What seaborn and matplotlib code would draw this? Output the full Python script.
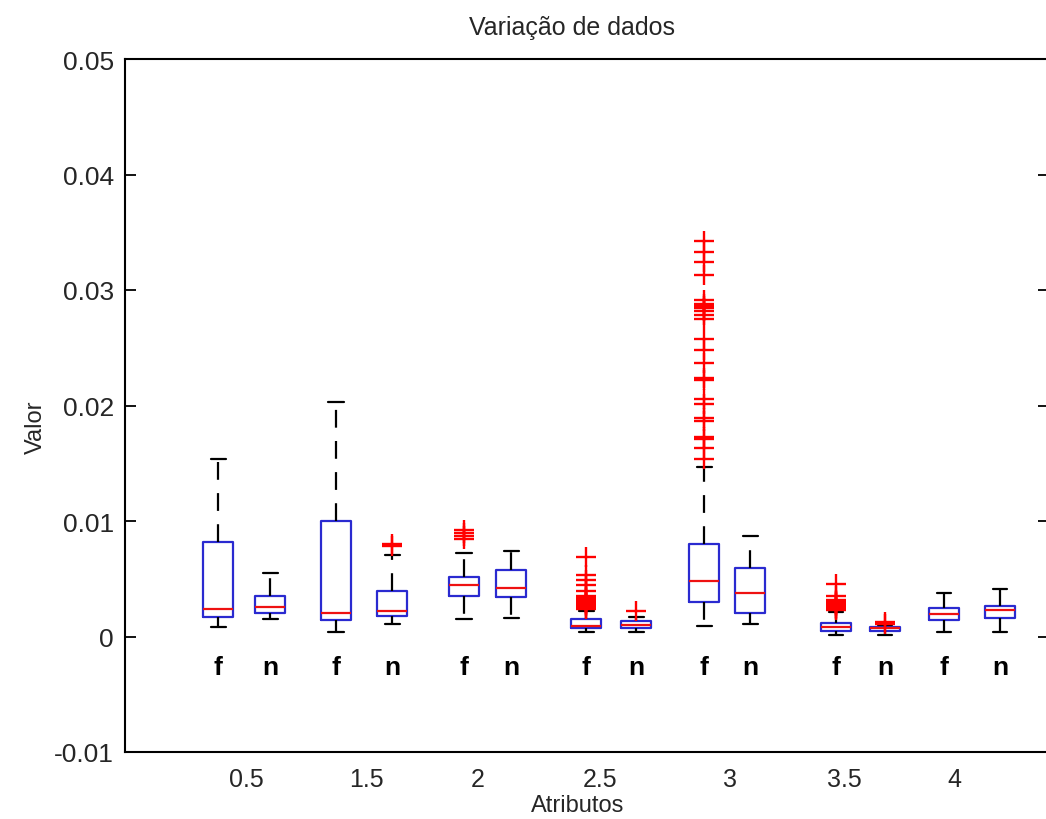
import numpy as np
import pandas as pd
import matplotlib
matplotlib.use("Agg")
import matplotlib.pyplot as plt
import seaborn as sns

# Attribute groups and the two classes shown under each box
atributos = ["0.5", "1.5", "2", "2.5", "3", "3.5", "4"]
classes = ["f", "n"]

# Box summaries per attribute: lower whisker, Q1, median, Q3, upper whisker
resumo_f = [
    [0.00080, 0.00166, 0.00238, 0.00816, 0.01537],
    [0.00036, 0.00146, 0.00201, 0.00997, 0.02033],
    [0.00152, 0.00348, 0.00449, 0.00518, 0.00723],
    [0.00036, 0.00071, 0.00094, 0.00152, 0.00225],
    [0.00088, 0.00296, 0.00483, 0.00798, 0.01470],
    [0.00016, 0.00050, 0.00080, 0.00114, 0.00210],
    [0.00036, 0.00143, 0.00195, 0.00244, 0.00377],
]
resumo_n = [
    [0.00152, 0.00201, 0.00258, 0.00353, 0.00547],
    [0.00108, 0.00180, 0.00224, 0.00391, 0.00706],
    [0.00163, 0.00345, 0.00423, 0.00576, 0.00740],
    [0.00036, 0.00071, 0.00100, 0.00131, 0.00170],
    [0.00108, 0.00201, 0.00374, 0.00593, 0.00873],
    [0.00016, 0.00050, 0.00071, 0.00085, 0.00100],
    [0.00036, 0.00160, 0.00227, 0.00261, 0.00409],
]

# Outlying observations per attribute
outliers_f = [
    [],
    [],
    [0.0084, 0.0087, 0.0090, 0.0092],
    [0.0024, 0.0025, 0.0026, 0.0027, 0.0028, 0.0029, 0.0030, 0.0031,
     0.0032, 0.0033, 0.0034, 0.0035, 0.0039, 0.00446, 0.00489,
     0.00532, 0.00686],
    [0.0154, 0.0163, 0.0171, 0.0173, 0.0187, 0.0189, 0.0201, 0.0206,
     0.0222, 0.0224, 0.0237, 0.0248, 0.0258, 0.0275, 0.0278, 0.0282,
     0.0284, 0.0286, 0.0288, 0.0291, 0.0313, 0.0324, 0.0333, 0.0342],
    [0.0023, 0.0024, 0.0025, 0.0026, 0.0027, 0.0028, 0.0029, 0.0030,
     0.0031, 0.0032, 0.0035, 0.00455],
    [],
]
outliers_n = [
    [],
    [0.0078, 0.0080],
    [],
    [0.0022],
    [],
    [0.00110, 0.00128],
    [],
]

# Horizontal layout of the boxes and of the attribute labels
pos_f = [2.18, 3.36, 4.64, 5.86, 7.04, 8.36, 9.44]
pos_n = [2.70, 3.92, 5.11, 6.36, 7.50, 8.85, 10.00]
pos_ticks = [2.46, 3.66, 4.78, 6.00, 7.30, 8.44, 9.54]

y_ticks = [-0.01, 0.0, 0.01, 0.02, 0.03, 0.04, 0.05]
y_ticklabels = ["-0.01", "0", "0.01", "0.02", "0.03", "0.04", "0.05"]

# Long tables for seaborn
rows, out_rows, lab_rows = [], [], []
for i in range(len(atributos)):
    for cls, pos, resumo, outs in (("f", pos_f[i], resumo_f[i], outliers_f[i]),
                                   ("n", pos_n[i], resumo_n[i], outliers_n[i])):
        for v in resumo:
            rows.append({"pos": pos, "valor": v})
        for v in outs:
            out_rows.append({"pos": pos, "valor": v})
        lab_rows.append((pos, cls))
df = pd.DataFrame(rows)
df_out = pd.DataFrame(out_rows)

sns.set_theme(style="white")
plt.rcParams["font.family"] = ["Liberation Sans", "DejaVu Sans"]

fig = plt.figure(figsize=(10.46, 8.20), dpi=100)
ax = fig.add_axes([125 / 1046, 67 / 820, 924 / 1046, 693 / 820])

all_pos = sorted(pos_f + pos_n)
box_w = 0.30 / np.min(np.diff(all_pos))

blue = "#2a2ad0"
red = "#ee1111"

sns.boxplot(
    data=df, x="pos", y="valor", orient="x", native_scale=True,
    whis=(0, 100), fill=False, width=box_w, showfliers=False,
    linewidth=1.6, ax=ax,
    boxprops=dict(color=blue, linewidth=1.6),
    medianprops=dict(color=red, linewidth=1.6),
    whiskerprops=dict(color="black", linewidth=1.6, linestyle=(0, (8, 6))),
    capprops=dict(color="black", linewidth=1.6),
)

sns.scatterplot(
    data=df_out, x="pos", y="valor", marker="+", s=190, color="#ff0000",
    linewidth=1.7, zorder=4, legend=False, ax=ax,
)

for pos, cls in lab_rows:
    ax.text(pos, -0.00262, cls, ha="center", va="center",
            fontsize=19, fontweight="bold", color="black")

ax.set_xlim(1.25, 10.49)
ax.set_ylim(-0.01, 0.05)
ax.set_xticks(pos_ticks)
ax.set_xticklabels(atributos, fontsize=18)
ax.set_yticks(y_ticks)
ax.set_yticklabels(y_ticklabels, fontsize=19)
ax.tick_params(axis="x", length=0, pad=11)
ax.tick_params(axis="y", direction="in", length=8, width=1.3,
               left=True, right=True, pad=8, color="black")

for sp in ax.spines.values():
    sp.set_visible(True)
    sp.set_color("black")
    sp.set_linewidth(1.5)

ax.set_title("Variação de dados", x=0.484, y=1.046, va="center",
             fontsize=18, pad=0)
ax.set_xlabel("Atributos", fontsize=17)
ax.xaxis.set_label_coords(0.49, -0.060)
ax.set_ylabel("Valor", fontsize=17)
ax.yaxis.set_label_coords(-0.085, 0.47)
ax.grid(False)

fig.savefig("out.png", dpi=100)
